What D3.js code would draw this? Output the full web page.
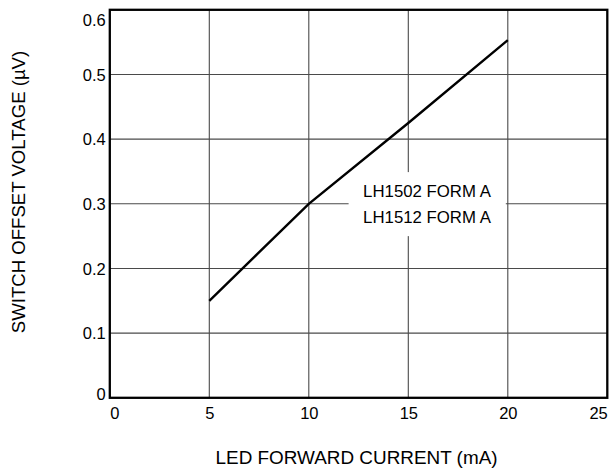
<!DOCTYPE html>
<html><head><meta charset="utf-8">
<script src="https://cdn.jsdelivr.net/npm/d3@7"></script>
<style>
html,body{margin:0;padding:0;background:#fff;}
svg{display:block;font-family:"Liberation Sans",Arial,Helvetica,sans-serif;}
</style></head>
<body>
<svg id="chart" width="612" height="472"></svg>
<script>
const currentMA = [5, 10, 15, 20];
const offsetUV = [0.15, 0.30, 0.425, 0.553];
const xTicks = [0, 5, 10, 15, 20, 25];
const yTicks = [0, 0.1, 0.2, 0.3, 0.4, 0.5, 0.6];
const yTickLabels = ["0", "0.1", "0.2", "0.3", "0.4", "0.5", "0.6"];
const curveLabels = ["LH1502 FORM A", "LH1512 FORM A"];
const xTitle = "LED FORWARD CURRENT (mA)";
const yTitle = "SWITCH OFFSET VOLTAGE (µV)";

const svg = d3.select("#chart");
const x = d3.scaleLinear().domain([0, 25]).range([109.8, 607.3]);
const y = d3.scaleLinear().domain([0, 0.6]).range([397.8, 9.8]);

// grid
const grid = svg.append("g").attr("stroke", "#4a4a4a").attr("stroke-width", 1.1);
grid.selectAll("line.v").data(xTicks.slice(1, -1)).join("line")
  .attr("x1", d => x(d)).attr("x2", d => x(d))
  .attr("y1", y(0.6)).attr("y2", y(0));
grid.selectAll("line.h").data(yTicks.slice(1, -1)).join("line")
  .attr("x1", x(0)).attr("x2", x(25))
  .attr("y1", d => y(d)).attr("y2", d => y(d));

// label background box
const bx0 = x(12.0), bx1 = x(19.9), by0 = y(0.349), by1 = y(0.25);
svg.append("rect").attr("x", bx0).attr("y", by0)
  .attr("width", bx1 - bx0).attr("height", by1 - by0).attr("fill", "#fff");

// curve
const line = d3.line().x((d, i) => x(currentMA[i])).y(d => y(d));
svg.append("path").datum(offsetUV).attr("d", line)
  .attr("fill", "none").attr("stroke", "#000").attr("stroke-width", 2.4);

// frame
svg.append("rect").attr("x", x(0)).attr("y", y(0.6))
  .attr("width", x(25) - x(0)).attr("height", y(0) - y(0.6))
  .attr("fill", "none").attr("stroke", "#000").attr("stroke-width", 2.3);

// axes (labels only)
const yAxis = svg.append("g").attr("transform", `translate(${x(0) - 3},0)`)
  .call(d3.axisLeft(y).tickValues(yTicks).tickFormat((d, i) => yTickLabels[i]).tickSize(0).tickPadding(1));
yAxis.select(".domain").remove();
yAxis.selectAll("text").attr("font-size", 16.5).attr("fill", "#000")
  .attr("font-family", "inherit")
  .attr("dy", (d) => d === 0.6 ? "0.95em" : (d === 0 ? "0.1em" : "0.35em"));

const xAxis = svg.append("g").attr("transform", `translate(0,${y(0)})`)
  .call(d3.axisBottom(x).tickValues(xTicks).tickSize(0).tickPadding(9));
xAxis.select(".domain").remove();
xAxis.selectAll("text").attr("font-size", 16.5).attr("fill", "#000")
  .attr("font-family", "inherit")
  .attr("text-anchor", d => d === 0 ? "start" : (d === 25 ? "end" : "middle"));

// curve labels
svg.append("g").selectAll("text").data(curveLabels).join("text")
  .attr("x", x(15.94)).attr("y", (d, i) => y(0.311) + i * 26)
  .attr("text-anchor", "middle").attr("font-size", 16.8).attr("fill", "#000")
  .text(d => d);

// titles
svg.append("text").attr("x", (x(0) + x(25)) / 2 - 2).attr("y", 463.5)
  .attr("text-anchor", "middle").attr("font-size", 18.9).attr("fill", "#000").text(xTitle);
svg.append("text").attr("transform", `translate(25,192) rotate(-90)`)
  .attr("text-anchor", "middle").attr("font-size", 18.6).attr("fill", "#000").text(yTitle);
</script>
</body></html>
